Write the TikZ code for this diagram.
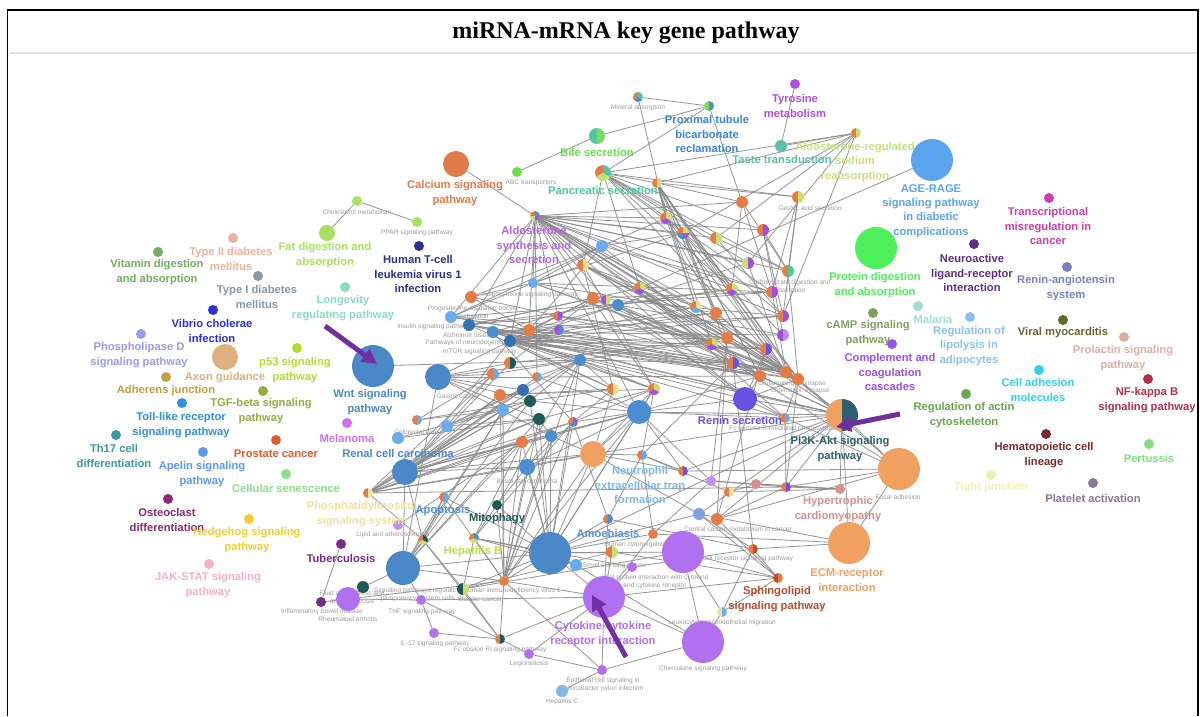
\documentclass[tikz,border=0pt]{standalone}
\usepackage{fontspec}
\setmainfont{Liberation Serif}
\setsansfont{Liberation Sans}
\usetikzlibrary{arrows.meta}

% shared palette for pie slices and hub nodes
\definecolor{cOr}{HTML}{E67C45}
\definecolor{cBl}{HTML}{4A8ED0}
\definecolor{cBlL}{HTML}{6AAAF0}
\definecolor{cBlD}{HTML}{3570B0}
\definecolor{cBlM}{HTML}{7A9EE8}
\definecolor{cTeD}{HTML}{1F5A58}
\definecolor{cVi}{HTML}{A050E0}
\definecolor{cPuL}{HTML}{C090F0}
\definecolor{cYg}{HTML}{C8E070}
\definecolor{cTe}{HTML}{4DC9A0}
\definecolor{cGr}{HTML}{7ED957}
\definecolor{cPy}{HTML}{F0E090}
\definecolor{cIn}{HTML}{7050E0}
\definecolor{cBr}{HTML}{C0502A}
\definecolor{linkC}{HTML}{8A8A8A}
\definecolor{tinyC}{HTML}{9C9C9C}
\definecolor{arrC}{HTML}{7030A0}
\definecolor{sepC}{HTML}{E2E2E2}
% pathway colours
\definecolor{tyrC}{HTML}{B04FD8}
\definecolor{proxC}{HTML}{3A86D8}
\definecolor{bileC}{HTML}{66E04A}
\definecolor{calC}{HTML}{E07B47}
\definecolor{pancC}{HTML}{4DC9A0}
\definecolor{aldC}{HTML}{B565E8}
\definecolor{tasteC}{HTML}{5DBFA8}
\definecolor{aregC}{HTML}{C6E07A}
\definecolor{ageC}{HTML}{5AA5EE}
\definecolor{transC}{HTML}{D03CB0}
\definecolor{protC}{HTML}{4DF05A}
\definecolor{neuroC}{HTML}{5C2D8A}
\definecolor{ranC}{HTML}{7B7FC0}
\definecolor{campC}{HTML}{7FA060}
\definecolor{malC}{HTML}{9DE0D0}
\definecolor{lipC}{HTML}{8CC0F0}
\definecolor{complC}{HTML}{9B4FF0}
\definecolor{viralC}{HTML}{5A6B2A}
\definecolor{prolC}{HTML}{D8B0A8}
\definecolor{caC}{HTML}{30D0F0}
\definecolor{nfkbC}{HTML}{B0304A}
\definecolor{actC}{HTML}{6AA84F}
\definecolor{pikC}{HTML}{2E5F6E}
\definecolor{hemC}{HTML}{7A2A2A}
\definecolor{pertC}{HTML}{80E080}
\definecolor{tightC}{HTML}{EEF2B0}
\definecolor{platC}{HTML}{8A7A98}
\definecolor{hypC}{HTML}{D89090}
\definecolor{ecmC}{HTML}{F0A060}
\definecolor{sphC}{HTML}{B84C30}
\definecolor{cytC}{HTML}{B070F0}
\definecolor{renC}{HTML}{6A50E0}
\definecolor{neutC}{HTML}{80B8E8}
\definecolor{amC}{HTML}{5A8EE0}
\definecolor{mitoC}{HTML}{1F5A50}
\definecolor{hepbC}{HTML}{B8E040}
\definecolor{apoC}{HTML}{4A8EE0}
\definecolor{phosC}{HTML}{EFE09A}
\definecolor{tubC}{HTML}{7A2A8A}
\definecolor{wntC}{HTML}{4A88C8}
\definecolor{melC}{HTML}{D070F0}
\definecolor{fatC}{HTML}{A8E060}
\definecolor{htlvC}{HTML}{2C2F8C}
\definecolor{longC}{HTML}{88DCC4}
\definecolor{ttwoC}{HTML}{F0B0A0}
\definecolor{vitC}{HTML}{70B060}
\definecolor{toneC}{HTML}{8898A8}
\definecolor{vibC}{HTML}{2A30D8}
\definecolor{pldC}{HTML}{9A9AF0}
\definecolor{axonC}{HTML}{DEB080}
\definecolor{pftC}{HTML}{B0DC30}
\definecolor{adhC}{HTML}{C0A040}
\definecolor{tgfC}{HTML}{90B040}
\definecolor{tollC}{HTML}{3090E0}
\definecolor{thC}{HTML}{3A9AA0}
\definecolor{prosC}{HTML}{E05A30}
\definecolor{apelC}{HTML}{5A9AE8}
\definecolor{csenC}{HTML}{88E088}
\definecolor{ostC}{HTML}{8A2A70}
\definecolor{hedC}{HTML}{F4CC30}
\definecolor{jakC}{HTML}{F8B0C0}

\pgfdeclarelayer{paper}
\pgfdeclarelayer{links}
\pgfsetlayers{paper,links,main}

\tikzset{
  dot/.style={circle,inner sep=0pt,outer sep=0pt,minimum size=#1,draw=none},
  lbl/.style={font=\sffamily\bfseries\fontsize{11.2}{14.4}\selectfont,align=center,inner sep=0pt},
  tiny/.style={font=\sffamily\fontsize{6.6}{7.8}\selectfont,align=center,inner sep=0pt,text=tinyC},
  link/.style={draw=linkC,line width=0.8pt,opacity=0.9},
  pointer/.style={draw=arrC,line width=5pt,-{Triangle[length=15pt,width=15pt]}},
}

% plain node: name, position, radius, colour
\newcommand\nd[4]{\node[dot=2*#3pt,fill=#4] (#1) at (#2) {};}
% pie node: name, position, radius, list of slice colours
\newcommand\piedot[4]{%
  \node[dot=2*#3pt] (#1) at (#2) {};
  \foreach \c [count=\i] in {#4} {\global\let\pienum\i}%
  \foreach \c [count=\i from 0] in {#4} {%
    \pgfmathsetmacro\pa{90+360*\i/\pienum}%
    \pgfmathsetmacro\pb{90+360*(\i+1)/\pienum}%
    \fill[fill=\c] (#1.center) -- ++(\pa:#3pt) arc[start angle=\pa,end angle=\pb,radius=#3pt] -- cycle;
  }%
}
\newcommand\lab[4]{\node[lbl,text=#3] (#1) at (#2) {#4};}
\newcommand\tlab[3]{\node[tiny] (#1) at (#2) {#3};}

\begin{document}
\begin{tikzpicture}[x=1pt,y=-1pt]
\useasboundingbox (0,0) rectangle (1200,716);
\begin{pgfonlayer}{paper}
  \fill[white] (0,0) rectangle (1200,716);
\end{pgfonlayer}

% frame and title bar
\draw[line width=1.8pt] (7.5,716) -- (7.5,10) -- (1198,10) -- (1198,716);
\draw[sepC,line width=2pt] (8.5,53) -- (1197,53);
\node[font=\rmfamily\bfseries\fontsize{24}{28}\selectfont] (title) at (626,33) {miRNA-mRNA key gene pathway};

% small grey labels
\tlab{s1}{638,108}{Mineral absorption}
\tlab{s2}{531,183}{ABC transporters}
\tlab{s3}{357,212}{Cholesterol metabolism}
\tlab{s4}{417,233}{PPAR signaling pathway}
\tlab{s5}{810,208}{Gastric acid secretion}
\tlab{s6}{473,312}{Progesterone-mediated oocyte\\maturation}
\tlab{s7}{434,327}{Insulin signaling pathway}
\tlab{s8}{470,335}{Alzheimer disease}
\tlab{s9}{472,343}{Pathways of neurodegeneration}
\tlab{s10}{480,352}{mTOR signaling pathway}
\tlab{s11}{530,295}{Adipocytokine signaling pathway}
\tlab{s12}{458,396}{Gastric cancer}
\tlab{s13}{898,497}{Focal adhesion}
\tlab{s14}{783,429}{Fc gamma R-mediated phagocytosis}
\tlab{s15}{792,384}{Glutamatergic synapse}
\tlab{s16}{800,391}{Cholinergic synapse}
\tlab{s17}{790,287}{Carbohydrate digestion and\\absorption}
\tlab{s18}{722,623}{Leukocyte transendothelial migration}
\tlab{s19}{703,669}{Chemokine signaling pathway}
\tlab{s20}{653,545}{Human cytomegalovirus infection}
\tlab{s21}{603,685}{Epithelial cell signaling in\\Helicobacter pylori infection}
\tlab{s22}{562,702}{Hepatitis C}
\tlab{s23}{529,664}{Legionellosis}
\tlab{s24}{500,650}{Fc epsilon RI signaling pathway}
\tlab{s25}{435,644}{IL-17 signaling pathway}
\tlab{s26}{422,612}{TNF signaling pathway}
\tlab{s27}{322,612}{Inflammatory bowel disease}
\tlab{s28}{348,619}{Rheumatoid arthritis}
\tlab{s29}{352,597}{Fluid shear stress and\\atherosclerosis}
\tlab{s30}{418,595}{Signaling pathways regulating\\pluripotency of stem cells}
\tlab{s31}{512,591}{Human immunodeficiency virus 1}
\tlab{s32}{480,599}{Bladder cancer}
\tlab{s33}{615,566}{Small cell lung cancer}
\tlab{s34}{655,582}{Viral protein interaction with cytokine\\and cytokine receptor}
\tlab{s35}{745,559}{T cell receptor signaling pathway}
\tlab{s36}{738,529}{Central carbon metabolism in cancer}
\tlab{s37}{393,535}{Lipid and atherosclerosis}
\tlab{s38}{527,481}{Basal cell carcinoma}
\tlab{s39}{420,432}{Colorectal cancer}

% outer pathways
\nd{tyr}{795,84}{5}{tyrC}
\piedot{mineral}{638,97}{5}{cOr,cBl,cTe}
\piedot{proxt}{709,106}{5}{cGr,cBl}
\piedot{bile}{597,136}{8}{cTe,cGr}
\nd{abc}{517,172}{5}{bileC}
\nd{calcium}{456,164}{13}{calC}
\piedot{pancr}{603,173}{8}{cOr,cYg,cTe}
\piedot{saliv}{657,183}{5}{cOr,cYg}
\piedot{aldos}{535,216}{5}{cOr,cYg,cVi,cBl}
\nd{taste}{781,146}{6}{tasteC}
\piedot{aldreg}{856,133}{5}{cOr,cYg}
\nd{agerage}{932,160}{21}{ageC}
\nd{transc}{1049,198}{5}{transC}
\nd{protein}{876,248}{21}{protC}
\nd{neuro}{974,244}{5}{neuroC}
\nd{renang}{1067,267}{5}{ranC}
\nd{camp}{873,313}{5}{campC}
\nd{malaria}{918,306}{5}{malC}
\nd{lipol}{970,317}{5}{lipC}
\nd{compl}{892,344}{5}{complC}
\nd{viral}{1063,320}{5}{viralC}
\nd{prolac}{1124,337}{5}{prolC}
\nd{celladh}{1039,370}{5}{caC}
\nd{nfkb}{1148,379}{5}{nfkbC}
\nd{actin}{966,394}{5}{actC}
\piedot{pi3k}{842,415}{16}{ecmC,pikC}
\nd{hemato}{1046,434}{5}{hemC}
\nd{pertus}{1149,444}{5}{pertC}
\nd{tight}{991,475}{5}{tightC}
\nd{platelet}{1093,483}{5}{platC}
\nd{focal}{899,469}{21}{ecmC}
\nd{hypert}{840,489}{5}{hypC}
\nd{ecm}{849,543}{21}{ecmC}
\piedot{sphingo}{778,578}{5}{cBr,cOr}
\piedot{leuko}{722,612}{5}{cPy,cBlL}
\nd{chemok}{703,642}{21}{cytC}
\nd{cytok}{604,597}{21}{cytC}
\nd{hcmv}{683,552}{21}{cytC}
\nd{epith}{602,670}{5}{cytC}
\nd{hepc}{562,691}{6}{neutC}
\nd{legion}{529,654}{5}{cytC}
\piedot{fceps}{500,639}{5}{cOr,cTeD}
\nd{il17}{434,633}{5}{cytC}
\nd{tnf}{421,600}{5}{cytC}
\nd{ibd}{321,602}{5}{tubC}
\nd{fluid}{348,599}{12}{cytC}
\nd{pluri}{363,587}{6}{cTeD}
\nd{bigblue}{403,568}{17}{wntC}
\nd{tuber}{341,544}{5}{tubC}
\nd{lipid}{398,525}{5}{cPuL}
\piedot{phosph}{368,493}{5}{cOr,phosC}
\nd{renal}{405,472}{13}{wntC}
\piedot{hepb}{474,538}{5}{cOr,cYg,cBl}
\piedot{hbpie}{423,540}{5}{cOr,cYg,cTeD}
\piedot{apopt}{444,497}{5}{cOr,cBlL}
\nd{mitoph}{497,505}{5}{mitoC}
\nd{pathc}{550,553}{21}{wntC}
\nd{hiv}{504,581}{5}{cOr}
\piedot{bladder}{463,589}{6}{cTeD,cYg}
\nd{sclc}{576,565}{6}{cBlL}
\nd{pu2}{632,567}{5}{cytC}
\piedot{pie612}{612,552}{6}{cOr,cYg}
\nd{or654}{653,534}{5}{cOr}
\piedot{or608}{608,519}{5}{cOr,cBl}
\nd{bl699}{699,514}{6}{cBlM}
\nd{or717}{717,519}{6}{cOr}
\piedot{pie753}{753,549}{5}{cOr,cBr}
\nd{pu711}{711,481}{5}{cPuL}
\nd{pk756}{756,484}{5}{hypC}
\piedot{pie729}{729,492}{5}{cOr,cPy}
\piedot{pie786}{786,487}{5}{cOr,cIn}
\piedot{pie683}{683,471}{5}{cOr,cIn}
\nd{or593}{593,454}{13}{ecmC}
\piedot{neut}{642,455}{5}{cOr,cBlL}
\nd{wnt}{373,366}{21}{wntC}
\nd{gastric}{438,377}{13}{wntC}
\nd{melan}{347,423}{5}{melC}
\nd{fat}{327,233}{8}{fatC}
\nd{chol}{357,201}{5}{fatC}
\nd{ppar}{417,222}{5}{fatC}
\nd{htlv}{419,246}{5}{htlvC}
\nd{longev}{345,287}{5}{longC}
\nd{ttwo}{233,238}{5}{ttwoC}
\nd{vitd}{158,252}{5}{vitC}
\nd{tone}{258,276}{5}{toneC}
\nd{vibrio}{213,310}{5}{vibC}
\nd{pld}{141,334}{5}{pldC}
\nd{axon}{225,357}{13}{axonC}
\nd{pft}{297,348}{5}{pftC}
\nd{adher}{166,377}{5}{adhC}
\nd{tgfb}{263,391}{5}{tgfC}
\nd{toll}{182,403}{5}{tollC}
\nd{thl}{116,435}{5}{thC}
\nd{prost}{276,440}{5}{prosC}
\nd{apelin}{203,452}{5}{apelC}
\nd{cellsen}{286,474}{5}{csenC}
\nd{osteo}{168,499}{5}{ostC}
\nd{hedge}{249,519}{5}{hedC}
\nd{jak}{209,564}{5}{jakC}

% dense core
\nd{c1}{533,283}{5}{cBlL}
\nd{c2}{471,297}{6}{cOr}
\nd{c3}{451,317}{6}{cBlL}
\nd{c4}{469,325}{6}{cBlD}
\nd{c5}{493,332}{6}{cBl}
\nd{c6}{510,341}{6}{cBlD}
\nd{c7}{529,330}{6}{cOr}
\piedot{c8}{510,363}{6}{cOr,cTeD}
\piedot{c9}{493,374}{6}{cOr,cBlL}
\nd{c10}{500,395}{6}{cOr}
\nd{c11}{523,390}{6}{cBlD}
\piedot{c12}{537,377}{5}{cOr,cBlL}
\nd{c13}{530,401}{6}{cTeD}
\nd{c14}{503,410}{6}{cBlL}
\nd{c15}{539,419}{6}{cTeD}
\piedot{c16}{417,420}{5}{cOr,cBlL}
\nd{c17}{447,426}{6}{cBlL}
\nd{c18}{398,438}{6}{cBlL}
\nd{c19}{522,442}{6}{cOr}
\nd{c20}{551,436}{6}{cBl}
\piedot{c21}{558,316}{5}{cOr,cVi}
\piedot{c22}{559,330}{5}{cVi,cBl}
\piedot{c23}{583,265}{6}{cOr,cPy}
\nd{c24}{602,246}{6}{cBlL}
\nd{c25}{593,298}{6}{cOr}
\piedot{c26}{606,300}{5}{cVi,cYg}
\nd{c27}{618,305}{6}{cBl}
\nd{c28}{580,360}{6}{cBl}
\piedot{c29}{573,422}{5}{cOr,cBl,cVi}
\piedot{c30}{613,389}{6}{cOr,cPy}
\piedot{c31}{654,389}{6}{cOr,cVi,cYg}
\nd{c32}{639,412}{12}{cBl}
\nd{renin}{745,399}{12}{renC}
\piedot{c33}{785,418}{5}{cOr,cBlL}
\piedot{c34}{640,288}{6}{cOr,cVi,cYg}
\piedot{c35}{666,218}{6}{cOr,cVi,cYg}
\piedot{c36}{683,233}{6}{cOr,cBl,cVi,cYg}
\piedot{c37}{716,238}{6}{cOr,cYg}
\nd{c38}{742,202}{6}{cOr}
\piedot{c39}{798,197}{6}{cOr,cYg}
\piedot{c40}{763,230}{6}{cOr,cVi}
\piedot{c41}{748,263}{6}{cYg,cVi}
\piedot{c42}{788,271}{6}{cOr,cTe}
\piedot{c43}{696,307}{6}{cOr,cBlL,cPy}
\nd{c44}{716,313}{6}{cOr}
\piedot{c45}{732,289}{6}{cOr,cVi,cYg}
\piedot{c46}{772,292}{6}{cOr,cVi}
\piedot{c47}{783,316}{6}{cOr,cVi}
\piedot{c48}{783,335}{6}{cVi,cPuL}
\nd{c49}{727,338}{6}{cOr}
\piedot{c50}{712,344}{6}{cOr,cVi,cYg}
\piedot{c51}{766,349}{6}{cOr,cIn}
\piedot{c52}{733,363}{6}{cOr,cIn}
\nd{c53}{760,376}{6}{cOr}
\nd{c54}{786,372}{6}{cOr}
\nd{c55}{798,379}{6}{cOr}
\nd{c56}{527,467}{8}{cBl}

% links between pathways
\begin{pgfonlayer}{links}
\foreach \h/\ts in {
 mineral/{proxt,c35}, proxt/{bile,pancr,c38}, tyr/{taste}, bile/{abc},
 calcium/{aldos}, chol/{fat,ppar}, agerage/{c34},
 aldos/{c35,c36,c37,c38,c40,c41,c43,c45,c46,c47,c49,c50,c51,c52,c54,c55,c34,c26,c23,c21,c6,c12,c7,c32,renin,c31,c1,c3,c4,c42,c44},
 pancr/{saliv,c36,c37,c40,c41,c45,c46,c54,c42,c39,aldreg,c23,c34},
 saliv/{c35,c36,c43,c45,c50,c51,c53,c54,c55,c39,aldreg,c38,c44},
 aldreg/{c37,c36,c41,c47,taste},
 c6/{c21,c22,c25,c27,c30,c31,c32,c49,c52,c53,c54,c55,c44,renin,c33,pi3k,c43,c50,c47,c51},
 c5/{c22,c26,c31,c44,c47,c51,c54,c29,c28,c53,c48},
 c4/{c21,c25,c34,c45,c53,c55,c30,c52},
 c3/{c1,c24,c7,c54,c49,c46},
 c1/{c24,c23,c36,c46,c54,c55,c44},
 c2/{c1,c7,c21,c24},
 c23/{c55,c54,c53,c43,c49,c51,c31,c30},
 c24/{c35,c36,c46,c53},
 c25/{c46,c47,c52,c54,c33,c55},
 c27/{c41,c45,c48,c53,c55,renin},
 c34/{c55,c52,c33,c53},
 c36/{c55,c52,c49,c48,c53},
 c35/{c54,c43,c44,c47},
 c43/{c55,c54},
 renal/{c9,c12,c13,c15,c20,c29,c28,c32,or593,c19,c10,c14,c11,c8,c6,c56},
 phosph/{c14,c15,c19,c20,c29,or593,c10,c13,c11,pie786,c9,c56},
 gastric/{c6,c9,c12,c13,c15,c11,c28,c20,c8},
 wnt/{c28},
 pathc/{c19,c20,c29,c28,c32,or593,hepb,apopt,mitoph,hiv,sclc,pie612,or654,c13,c15,bigblue,cytok,hcmv,or608,bl699,pi3k,c31,c56},
 bigblue/{pluri,hiv,c15,c19,c14,apopt,hbpie,renal,gastric,c13},
 pi3k/{focal,ecm,hypert,c33,renin,c55,c54,c53,c32,c52,c49,bl699,or717,pie786,c5,c4,pie683,or593},
 focal/{ecm,c52,c55,pie786,or717,pie683},
 ecm/{pie753,or654,bl699},
 hypert/{pk756,pu711,pie786},
 pie729/{pk756,hypert},
 sphingo/{pie753,leuko,cytok,or717,bl699,pie612,hcmv},
 leuko/{chemok,hcmv,pie753},
 chemok/{hcmv,epith,cytok,sclc},
 cytok/{epith,legion,fceps,tnf,hiv,pu2,pie612,or608,or654},
 epith/{hepc,legion,hiv},
 il17/{tnf,fceps},
 tnf/{fceps,fluid,bigblue},
 fceps/{legion,hiv,bladder,hbpie},
 tuber/{ibd}, ibd/{fluid}, fluid/{pluri,hiv},
 hiv/{c19,c10,c14,c15,apopt,or593,c29,c20,hepb,mitoph,c32,c28,c56},
 bladder/{hbpie,pathc,hepb,hcmv,pie612},
 hbpie/{c14,renal,apopt,phosph},
 hepb/{c19,mitoph,sclc,pu2,c29},
 mitoph/{c20,c28},
 or593/{c32,neut,c30,c31,pie683,bl699},
 neut/{c31,pie683,or608,or654,pie729,c52},
 c32/{renin,c31,c53,pie683,pu711,c33},
 renin/{c33,c55,c53,c51},
 c33/{c55,pie786,focal},
 pie786/{pu711,or717,c55},
 pu711/{c49,or654},
 or717/{c49,c51},
 pie753/{c52,bl699,or608,pu2},
 c29/{c31,c32,c30,or608},
 c13/{c30,c32,c28},
 c15/{c20,c31},
 c28/{c30,c31,c49,c52},
 c20/{or593,c32},
 c22/{c54,c53},
 c21/{c55,c51,c49},
 c12/{c28,c32,c53},
 c9/{c28}, c8/{c25,c49}, c7/{c25,c27,c24},
 c17/{c14,c15,c11,c28}, c16/{c13,c9,c14}, c18/{c15,c13},
 c19/{c32}, c10/{c30,c31}, c44/{c54,c55}, c45/{c55}, c46/{c54},
 c37/{c47,c42}, c38/{c46,c45,c42}, c39/{c42,c47,c46}, c40/{c42,c48,c47},
 c41/{c54}, c42/{c55}, lipid/{c19}, c56/{c32,or593,c29}}
 {\foreach \t in \ts {\draw[link] (\h) -- (\t);}}
\end{pgfonlayer}

% pathway labels
\lab{tyr-l}{795,106}{tyrC}{Tyrosine\\metabolism}
\lab{proxt-l}{707,134}{proxC}{Proximal tubule\\bicarbonate\\reclamation}
\lab{bile-l}{597,152}{bileC}{Bile secretion}
\lab{calcium-l}{455,193}{calC}{Calcium signaling\\pathway}
\lab{pancr-l}{603,190}{pancC}{Pancreatic secretion}
\lab{aldos-l}{534,245}{aldC}{Aldosterone\\synthesis and\\secretion}
\lab{taste-l}{782,159}{tasteC}{Taste transduction}
\lab{aldreg-l}{855,162}{aregC}{Aldosterone-regulated\\sodium\\reabsorption}
\lab{agerage-l}{931,211}{ageC}{AGE-RAGE\\signaling pathway\\in diabetic\\complications}
\lab{transc-l}{1048,226}{transC}{Transcriptional\\misregulation in\\cancer}
\lab{protein-l}{875,285}{protC}{Protein digestion\\and absorption}
\lab{neuro-l}{972,273}{neuroC}{Neuroactive\\ligand-receptor\\interaction}
\lab{renang-l}{1066,288}{ranC}{Renin-angiotensin\\system}
\lab{camp-l}{868,333}{campC}{cAMP signaling\\pathway}
\lab{malaria-l}{933,319}{malC}{Malaria}
\lab{lipol-l}{969,346}{lipC}{Regulation of\\lipolysis in\\adipocytes}
\lab{compl-l}{890,372}{complC}{Complement and\\coagulation\\cascades}
\lab{viral-l}{1063,333}{viralC}{Viral myocarditis}
\lab{prolac-l}{1123,358}{prolC}{Prolactin signaling\\pathway}
\lab{celladh-l}{1038,390}{caC}{Cell adhesion\\molecules}
\lab{nfkb-l}{1147,400}{nfkbC}{NF-kappa B\\signaling pathway}
\lab{actin-l}{964,415}{actC}{Regulation of actin\\cytoskeleton}
\lab{pi3k-l}{840,449}{pikC}{PI3K-Akt signaling\\pathway}
\lab{hemato-l}{1044,455}{hemC}{Hematopoietic cell\\lineage}
\lab{pertus-l}{1149,458}{pertC}{Pertussis}
\lab{tight-l}{991,488}{tightC}{Tight junction}
\lab{platelet-l}{1093,498}{platC}{Platelet activation}
\lab{hypert-l}{838,509}{hypC}{Hypertrophic\\cardiomyopathy}
\lab{ecm-l}{847,580}{ecmC}{ECM-receptor\\interaction}
\lab{sphingo-l}{777,599}{sphC}{Sphingolipid\\signaling pathway}
\lab{cytok-l}{603,634}{cytC}{Cytokine-cytokine\\receptor interaction}
\lab{renin-l}{740,420}{renC}{Renin secretion}
\lab{neut-l}{640,485}{neutC}{Neutrophil\\extracellular trap\\formation}
\lab{amoeb-l}{608,533}{amC}{Amoebiasis}
\lab{mitoph-l}{497,519}{mitoC}{Mitophagy}
\lab{hepb-l}{473,552}{hepbC}{Hepatitis B}
\lab{apopt-l}{443,511}{apoC}{Apoptosis}
\lab{phosph-l}{362,514}{phosC}{Phosphatidylinositol\\signaling system}
\lab{tuber-l}{341,558}{tubC}{Tuberculosis}
\lab{renal-l}{398,453}{wntC}{Renal cell carcinoma}
\lab{wnt-l}{370,402}{wntC}{Wnt signaling\\pathway}
\lab{melan-l}{347,438}{melC}{Melanoma}
\lab{fat-l}{325,255}{fatC}{Fat digestion and\\absorption}
\lab{htlv-l}{418,274}{htlvC}{Human T-cell\\leukemia virus 1\\infection}
\lab{longev-l}{343,308}{longC}{Longevity\\regulating pathway}
\lab{ttwo-l}{231,259}{ttwoC}{Type II diabetes\\mellitus}
\lab{vitd-l}{157,272}{vitC}{Vitamin digestion\\and absorption}
\lab{tone-l}{257,297}{toneC}{Type I diabetes\\mellitus}
\lab{vibrio-l}{212,331}{vibC}{Vibrio cholerae\\infection}
\lab{pld-l}{139,355}{pldC}{Phospholipase D\\signaling pathway}
\lab{axon-l}{225,378}{axonC}{Axon guidance}
\lab{pft-l}{295,370}{pftC}{p53 signaling\\pathway}
\lab{adher-l}{166,391}{adhC}{Adherens junction}
\lab{tgfb-l}{261,411}{tgfC}{TGF-beta signaling\\pathway}
\lab{toll-l}{181,425}{tollC}{Toll-like receptor\\signaling pathway}
\lab{thl-l}{114,456}{thC}{Th17 cell\\differentiation}
\lab{prost-l}{276,454}{prosC}{Prostate cancer}
\lab{apelin-l}{202,474}{apelC}{Apelin signaling\\pathway}
\lab{cellsen-l}{286,488}{csenC}{Cellular senescence}
\lab{osteo-l}{167,520}{ostC}{Osteoclast\\differentiation}
\lab{hedge-l}{247,540}{hedC}{Hedgehog signaling\\pathway}
\lab{jak-l}{208,585}{jakC}{JAK-STAT signaling\\pathway}

% highlight arrows
\coordinate (p1s) at (325,326);
\coordinate (p1e) at (377,364);
\coordinate (p2s) at (900,414);
\coordinate (p2e) at (836,427);
\coordinate (p3s) at (626,657);
\coordinate (p3e) at (592,595);
\draw[pointer] (p1s) -- (p1e);
\draw[pointer] (p2s) -- (p2e);
\draw[pointer] (p3s) -- (p3e);
\end{tikzpicture}
\end{document}
